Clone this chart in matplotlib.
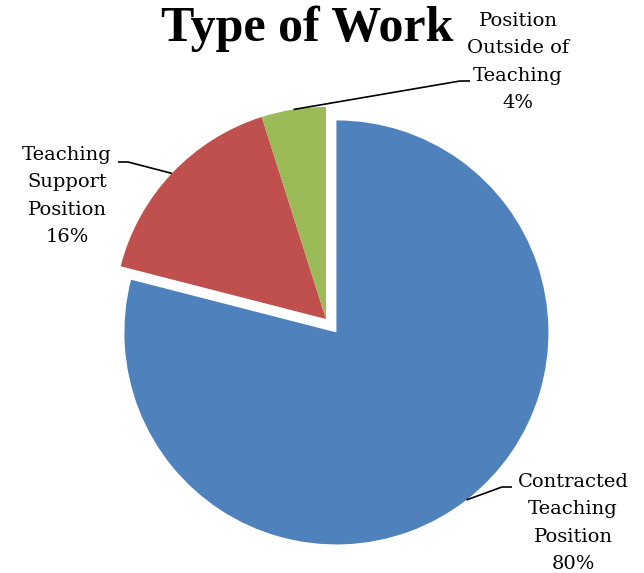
import numpy as np
import matplotlib.pyplot as plt

# данные диаграммы (размер секторов, подписи как на ней)
labels = ['Contracted\nTeaching\nPosition', 'Teaching\nSupport\nPosition', 'Position\nOutside of\nTeaching']
values = [79.0, 16.1, 4.9]
pct_labels = ['80%', '16%', '4%']
colors = ['#4F81BD', '#C0504D', '#9BBB59']
explode = [17, 0, 0]

W, H = 644, 573
fig = plt.figure(figsize=(W / 100, H / 100), dpi=100)
ax = fig.add_axes([0, 0, 1, 1])
ax.set_xlim(0, W)
ax.set_ylim(0, H)
ax.set_aspect('equal')
ax.axis('off')

cx, cy, R = 326, H - 319, 212
wedges, _ = ax.pie(values, colors=colors, explode=explode, startangle=90,
                   counterclock=False, radius=R, center=(cx, cy),
                   wedgeprops=dict(linewidth=0))
ax.set_xlim(0, W)
ax.set_ylim(0, H)

# подписи: позиция текста и излом линии-выноски (в пикселях)
text_pos = [(573, 523), (67, 196), (518, 62)]
elbow = [[(502, 487), (512, 487)], [(128, 162), (118, 162)], [(460, 81), (470, 81)]]

for w, lab, pct, tp, el in zip(wedges, labels, pct_labels, text_pos, elbow):
    ang = np.deg2rad((w.theta1 + w.theta2) / 2)
    x0 = w.center[0] + w.r * np.cos(ang)
    y0 = w.center[1] + w.r * np.sin(ang)
    xs = [x0] + [p[0] for p in el]
    ys = [y0] + [H - p[1] for p in el]
    ax.plot(xs, ys, color='black', lw=1.2, solid_capstyle='butt')
    ax.text(tp[0], H - tp[1], f'{lab}\n{pct}', ha='center', va='center',
            fontsize=14, family='DejaVu Serif', linespacing=1.68)

ax.text(307, H - 29, 'Type of Work', ha='center', va='center',
        fontsize=36, fontweight='bold', family='Liberation Serif')

fig.savefig('out.png', dpi=100)
